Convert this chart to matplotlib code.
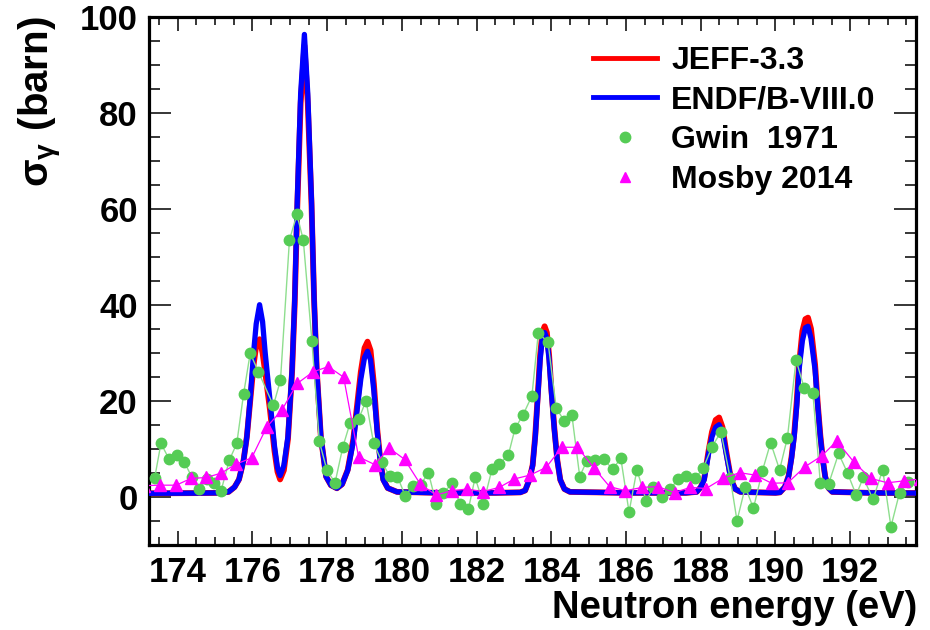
import matplotlib
matplotlib.use("Agg")
import matplotlib.pyplot as plt
from matplotlib.lines import Line2D
from matplotlib.ticker import MultipleLocator

# evaluated capture cross sections
endf_e = [173.23, 174.50, 175.10, 175.36, 175.52, 175.64, 175.76, 175.85, 175.94, 176.03,
          176.10, 176.19, 176.27, 176.34, 176.47, 176.59, 176.67, 176.74, 176.84, 176.95,
          177.06, 177.13, 177.20, 177.29, 177.39, 177.48, 177.58, 177.65, 177.72, 177.83,
          177.97, 178.10, 178.26, 178.40, 178.55, 178.70, 178.80, 178.90, 179.00, 179.08,
          179.16, 179.25, 179.34, 179.42, 179.50, 179.62, 179.87, 181.00, 182.50, 183.17,
          183.30, 183.41, 183.50, 183.57, 183.64, 183.70, 183.76, 183.82, 183.88, 183.94,
          184.00, 184.08, 184.16, 184.24, 184.35, 184.50, 186.00, 187.60, 187.89, 188.00,
          188.09, 188.21, 188.30, 188.40, 188.49, 188.58, 188.68, 188.81, 188.92, 189.06,
          190.00, 190.12, 190.25, 190.35, 190.43, 190.50, 190.57, 190.63, 190.72, 190.80,
          190.87, 190.95, 191.06, 191.13, 191.20, 191.27, 191.33, 191.42, 191.52, 192.50,
          193.76]
endf_xs = [0.7, 0.75, 0.8, 1.0, 2.0, 3.6, 7.5, 12.5, 20.5, 30.0,
           36.0, 40.0, 36.5, 30.0, 20.0, 10.5, 6.0, 4.4, 6.5, 12.5,
           26.4, 41.0, 61.8, 84.0, 96.3, 84.0, 61.8, 41.0, 26.4, 12.5,
           4.2, 2.4, 1.75, 2.6, 5.5, 11.5, 18.0, 24.5, 29.0, 30.3,
           28.5, 22.0, 13.5, 7.5, 3.5, 1.8, 1.0, 0.8, 0.8, 0.9,
           1.3, 3.5, 6.5, 12.5, 21.0, 28.5, 33.0, 34.2, 33.0, 28.5,
           22.0, 14.0, 7.5, 3.5, 1.6, 1.0, 0.8, 0.8, 1.0, 2.0,
           3.5, 9.0, 12.5, 14.5, 15.0, 13.5, 9.0, 3.5, 1.6, 1.0,
           0.8, 0.9, 2.0, 4.2, 8.0, 12.5, 19.0, 26.4, 32.5, 35.2,
           35.5, 33.0, 26.4, 19.0, 12.5, 7.5, 4.2, 1.8, 1.0, 0.8,
           0.75]

jeff_e = endf_e
jeff_xs = [0.7, 0.75, 0.8, 1.0, 2.0, 3.6, 7.5, 12.5, 20.0, 27.5,
           31.5, 32.8, 30.0, 26.0, 18.0, 9.5, 5.2, 3.6, 5.5, 12.0,
           26.0, 40.0, 60.5, 82.0, 94.0, 82.0, 61.0, 41.0, 26.4, 12.5,
           4.2, 2.4, 1.75, 2.6, 5.6, 12.0, 19.0, 26.0, 31.0, 32.3,
           30.5, 23.5, 14.0, 7.8, 3.6, 1.8, 1.0, 0.8, 0.8, 0.9,
           1.3, 3.5, 6.6, 12.8, 21.5, 29.5, 34.2, 35.5, 34.2, 29.5,
           22.5, 14.3, 7.6, 3.5, 1.6, 1.0, 0.8, 0.8, 1.0, 2.0,
           3.7, 9.6, 13.5, 16.0, 16.5, 14.5, 9.5, 3.6, 1.6, 1.0,
           0.8, 0.9, 2.0, 4.3, 8.3, 13.0, 20.0, 27.5, 34.5, 37.0,
           37.3, 35.0, 27.5, 19.5, 12.8, 7.6, 4.2, 1.8, 1.0, 0.8,
           0.75]

# Gwin 1971 measurement
gwin_e = [173.38, 173.55, 173.77, 173.98, 174.17, 174.37, 174.57, 174.77, 174.96, 175.16,
          175.38, 175.58, 175.76, 175.94, 176.16, 176.56, 176.75, 176.99, 177.19, 177.36,
          177.59, 177.79, 177.99, 178.21, 178.42, 178.61, 178.84, 179.04, 179.24, 179.46,
          179.67, 179.88, 180.09, 180.29, 180.50, 180.71, 180.92, 181.11, 181.34, 181.56,
          181.78, 181.96, 182.18, 182.41, 182.61, 182.85, 183.03, 183.24, 183.48, 183.65,
          183.91, 184.13, 184.35, 184.55, 184.76, 184.95, 185.17, 185.41, 185.64, 185.86,
          186.08, 186.29, 186.54, 186.73, 186.96, 187.18, 187.40, 187.61, 187.85, 188.07,
          188.30, 188.54, 188.79, 188.97, 189.19, 189.41, 189.65, 189.87, 190.11, 190.32,
          190.55, 190.77, 191.00, 191.20, 191.42, 191.69, 191.93, 192.16, 192.35, 192.61,
          192.87, 193.09, 193.32, 193.56]
gwin_xs = [3.8, 11.1, 7.8, 8.7, 7.3, 4.2, 1.5, 3.6, 2.9, 1.25,
           7.6, 11.1, 21.3, 29.9, 26.0, 19.0, 24.3, 53.5, 58.8, 53.5,
           32.5, 11.5, 5.6, 2.9, 10.4, 15.3, 16.1, 20.0, 11.25, 7.3,
           4.3, 4.2, 0.15, 2.2, 2.5, 5.0, -1.5, 0.7, 2.8, -1.5,
           -2.6, 4.0, -1.5, 5.7, 6.8, 8.7, 14.25, 17.0, 21.0, 34.0,
           32.3, 18.5, 15.7, 17.0, 4.2, 7.5, 7.6, 7.8, 5.7, 8.0,
           -3.2, 5.6, -0.8, 2.0, 0.0, 1.7, 3.6, 4.3, 3.8, 6.0,
           10.4, 13.5, 3.8, -5.0, 2.0, -2.4, 5.4, 11.25, 5.6, 12.3,
           28.5, 22.6, 21.7, 2.9, 2.6, 9.0, 4.9, 0.35, 4.0, -0.55,
           5.6, -6.25, 0.8, 3.1]

# Mosby 2014 measurement
mosby_e = [173.10, 173.53, 173.96, 174.35, 174.76, 175.16, 175.55, 175.98, 176.38, 176.79,
           177.20, 177.62, 178.03, 178.44, 178.84, 179.27, 179.66, 180.07, 180.49, 180.91,
           181.34, 181.74, 182.16, 182.61, 183.01, 183.43, 183.86, 184.28, 184.70, 185.15,
           185.56, 185.98, 186.44, 186.85, 187.30, 187.72, 188.14, 188.59, 189.04, 189.46,
           189.90, 190.33, 190.79, 191.24, 191.64, 192.10, 192.55, 193.00, 193.44, 193.88]
mosby_xs = [2.3, 2.4, 2.4, 3.8, 4.0, 4.9, 6.75, 8.1, 14.5, 18.1,
            23.6, 26.0, 27.1, 24.9, 8.3, 6.7, 10.1, 7.8, 2.65, 0.35,
            1.25, 1.6, 1.05, 1.95, 3.7, 4.5, 6.1, 10.3, 10.3, 5.9,
            2.1, 1.25, 1.95, 2.1, 0.85, 1.95, 1.7, 3.8, 5.0, 4.5,
            2.8, 2.9, 6.25, 8.5, 11.6, 7.2, 3.8, 2.9, 3.3, 3.7]

plt.rcParams["font.family"] = ["Liberation Sans", "DejaVu Sans"]
plt.rcParams["font.weight"] = "bold"
plt.rcParams["mathtext.fontset"] = "custom"
plt.rcParams["mathtext.rm"] = "Liberation Sans"
plt.rcParams["mathtext.it"] = "Liberation Sans:italic"
plt.rcParams["mathtext.bf"] = "Liberation Sans:bold"

fig = plt.figure(figsize=(9.3, 6.3), dpi=100)
ax = fig.add_axes([0.1602, 0.1354, 0.8247, 0.8381])

red = "#ff0000"
blue = "#0000ff"
green = "#55cc55"
green_line = "#8ede8e"
magenta = "#ff00ff"

ax.plot(jeff_e, jeff_xs, color=red, lw=4.2, zorder=2)
ax.plot(endf_e, endf_xs, color=blue, lw=3.8, zorder=3)
ax.plot(gwin_e, gwin_xs, color=green_line, lw=1.0, zorder=4)
ax.plot(gwin_e, gwin_xs, ls="none", marker="o", ms=7.5, color=green, mec=green, zorder=5)
ax.plot(mosby_e, mosby_xs, color=magenta, lw=0.9, zorder=6)
ax.plot(mosby_e, mosby_xs, ls="none", marker="^", ms=8.5, color=magenta, mec=magenta, zorder=7)

ax.set_xlim(173.23, 193.76)
ax.set_ylim(-10, 100)
ax.set_xticks(range(174, 193, 2))
ax.set_yticks(range(0, 101, 20))
ax.xaxis.set_minor_locator(MultipleLocator(0.5))
ax.yaxis.set_minor_locator(MultipleLocator(5))
ax.tick_params(which="both", direction="in", top=True, right=True, width=1.1,
               labelsize=25, colors="black")
ax.tick_params(axis="x", which="major", length=10, pad=8)
ax.tick_params(axis="x", which="minor", length=5.5)
ax.tick_params(axis="y", which="major", length=16, pad=8)
ax.tick_params(axis="y", which="minor", length=8)
for lab in ax.get_xticklabels() + ax.get_yticklabels():
    lab.set_fontweight("bold")
for sp in ax.spines.values():
    sp.set_linewidth(2.3)

ax.set_xlabel("Neutron energy (eV)", fontsize=27.5, fontweight="bold", loc="right")
ax.xaxis.set_label_coords(1.002, -0.085)
ax.set_ylabel(r"$\mathrm{\sigma_{\gamma}}\ \mathbf{(barn)}$", fontsize=29,
              fontweight="normal", loc="top")
ax.yaxis.set_label_coords(-0.111, 1.0)

handles = [
    Line2D([], [], color=red, lw=3.5),
    Line2D([], [], color=blue, lw=3.5),
    Line2D([], [], ls="none", marker="o", ms=7.5, color=green),
    Line2D([], [], ls="none", marker="^", ms=7.5, color=magenta),
]
labels = ["JEFF-3.3", "ENDF/B-VIII.0", "Gwin  1971", "Mosby 2014"]
ax.legend(handles, labels, loc="upper left", bbox_to_anchor=(593 / 930, 1 - 46 / 630),
          bbox_transform=fig.transFigure, frameon=False,
          prop={"weight": "bold", "size": 23}, handlelength=2.0, handletextpad=0.45,
          labelspacing=0.3, borderpad=0, borderaxespad=0)

fig.savefig("out.png", dpi=100)
